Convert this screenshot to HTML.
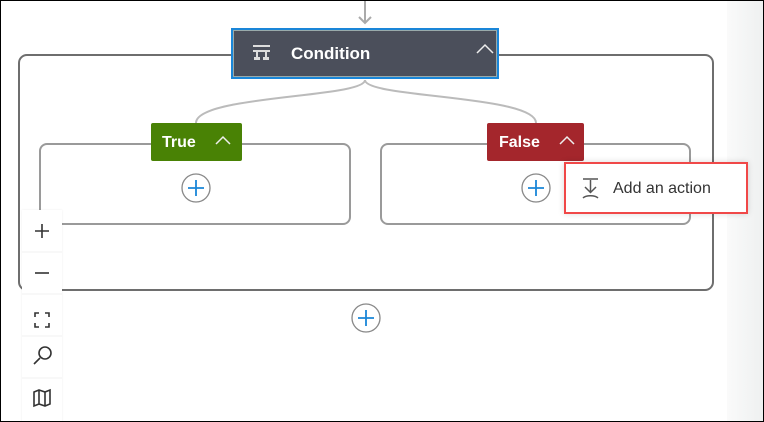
<!DOCTYPE html>
<html><head><meta charset="utf-8"><style>
*{margin:0;padding:0;box-sizing:border-box}
body{width:764px;height:422px;overflow:hidden;background:#fff;position:relative;font-family:"Liberation Sans",sans-serif}
.a{position:absolute}
</style></head><body>
<div class="a" style="left:727px;top:0;width:37px;height:422px;background:linear-gradient(90deg,#fafafa,#eef0f0)"></div>
<svg class="a" style="left:0;top:0" width="764" height="422">
 <line x1="365" y1="0" x2="365" y2="23" stroke="#aaa" stroke-width="2"/>
 <polyline points="359,17 365,23 371,17" fill="none" stroke="#aaa" stroke-width="2"/>
 <rect x="19" y="55" width="694" height="235" rx="8" fill="none" stroke="#6e6e6e" stroke-width="2"/>
 <path d="M365,80 C365,98 196,95 196,123" fill="none" stroke="#bbb" stroke-width="2"/>
 <path d="M365,80 C365,98 536,95 536,123" fill="none" stroke="#bbb" stroke-width="2"/>
 <rect x="40" y="144" width="310" height="80" rx="7" fill="#fff" stroke="#9a9a9a" stroke-width="2"/>
 <rect x="381" y="144" width="309" height="80" rx="7" fill="#fff" stroke="#9a9a9a" stroke-width="2"/>
 <g fill="#fff" stroke="#888" stroke-width="1.3">
  <circle cx="196" cy="188" r="14"/><circle cx="536" cy="188" r="14"/><circle cx="366" cy="318" r="14"/>
 </g>
 <g stroke="#1a86d8" stroke-width="1.8">
  <path d="M188,188h16M196,180v16"/><path d="M528,188h16M536,180v16"/><path d="M358,318h16M366,310v16"/>
 </g>
</svg>
<div class="a" style="left:231px;top:28px;width:268px;height:51px;background:#4b4f5b;border:2px solid #1a86d8;box-shadow:inset 0 0 0 1px #9aa"></div>
<svg class="a" style="left:252px;top:44px" width="20" height="18"><g fill="#ddd"><rect x="1" y="1" width="17" height="2"/><rect x="1" y="6" width="17" height="2"/><rect x="4" y="8" width="2" height="5"/><rect x="13" y="8" width="2" height="5"/><rect x="2" y="13" width="6" height="3"/><rect x="11" y="13" width="6" height="3"/></g></svg>
<div class="a" style="left:291px;top:44px;color:#fff;font-weight:bold;font-size:17px">Condition</div>
<svg class="a" style="left:475px;top:42px" width="20" height="14"><polyline points="2,11 10,3 18,11" fill="none" stroke="#eee" stroke-width="1.5"/></svg>
<div class="a" style="left:151px;top:123px;width:91px;height:38px;background:#498205;border-radius:2px"></div>
<div class="a" style="left:162px;top:134px;color:#fff;font-weight:bold;font-size:16px">True</div>
<svg class="a" style="left:214px;top:134px" width="20" height="14"><polyline points="2,10 9,3 16,10" fill="none" stroke="#eee" stroke-width="1.5"/></svg>
<div class="a" style="left:487px;top:123px;width:97px;height:38px;background:#a4262c;border-radius:2px"></div>
<div class="a" style="left:499px;top:134px;color:#fff;font-weight:bold;font-size:16px">False</div>
<svg class="a" style="left:558px;top:134px" width="20" height="14"><polyline points="2,10 9,3 16,10" fill="none" stroke="#eee" stroke-width="1.5"/></svg>
<div class="a" style="left:564px;top:162px;width:184px;height:52px;background:#fff;border:2px solid #f04848;box-shadow:0 0 6px rgba(0,0,0,.15)"></div>
<svg class="a" style="left:580px;top:177px" width="22" height="24"><g fill="none" stroke="#555" stroke-width="1.5"><path d="M3,2h15M10.5,3v12M5,10l5.5,5.5L16,10M3,21c3,-3 12,-3 15,0"/></g></svg>
<div class="a" style="left:613px;top:180px;color:#333;font-size:16px">Add an action</div>
<div class="a" style="left:22px;top:210px;width:40px;height:212px;background:#fff;box-shadow:0 0 2px rgba(0,0,0,.08)"></div>
<svg class="a" style="left:22px;top:210px" width="40" height="212">
 <g stroke="#f0f0f0"><line x1="0" y1="42" x2="40" y2="42"/><line x1="0" y1="84" x2="40" y2="84"/><line x1="0" y1="126" x2="40" y2="126"/><line x1="0" y1="168" x2="40" y2="168"/></g>
 <g stroke="#333" stroke-width="1.6" fill="none">
  <path d="M13,21h14M20,14v14"/><path d="M13,63h14"/>
  <path d="M13,107v-4h4M23,103h4v4M27,113v4h-4M17,117h-4v-4"/>
  <circle cx="23" cy="143" r="6"/><path d="M18,148l-6,6"/>
  <path d="M12,182l5,-2l6,2l5,-2v14l-5,2l-6,-2l-5,2z M17,180v14 M23,182v14"/>
 </g>
</svg>
<div class="a" style="left:0;top:0;width:764px;height:422px;border:1px solid #000"></div>
</body></html>
